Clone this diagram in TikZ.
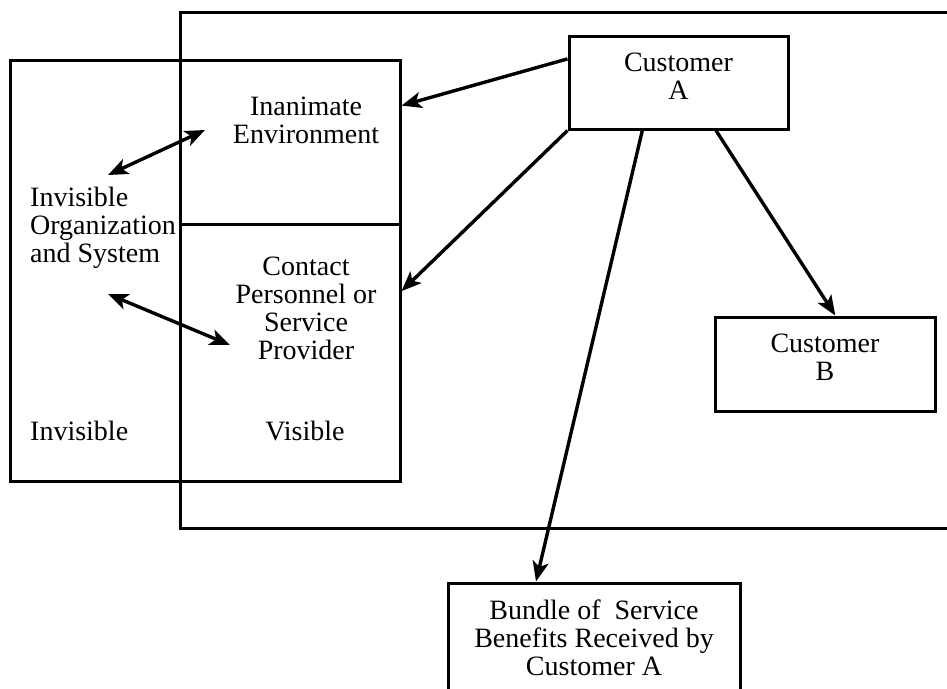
\documentclass[tikz,border=0pt]{standalone}
\usepackage{fontspec}
\setmainfont{Liberation Serif}
\usepackage{tikz}
\usetikzlibrary{
    positioning,
    calc,
    arrows.meta
}
\tikzset{
  arrowtip/.tip = {Stealth[length=20pt, width=16pt, inset=5pt]},
  basic/.style = {
      font=\fontsize{28}{28}\selectfont,
      align=center,
      inner sep=0pt
  },
  box/.style = {
      basic,
      draw,
      rectangle,
      line width=3pt
  },
  caption/.style = {
      basic
  },
  frame/.style = {
      line width=3pt
  },
  link/.style = {
      line width=3.4pt,
      -arrowtip
  },
  twoway/.style = {
      line width=3.4pt,
      arrowtip-arrowtip
  }
}
\begin{document}
\begin{tikzpicture}[x=1pt, y=-1pt]
    \clip (0,0) rectangle (947,688);
    \useasboundingbox (0,0) rectangle (947,688);
    % Frames
    \draw[frame] (960,12) -- (180,12) -- (180,528) -- (960,528);
    \node[box, minimum width=390pt, minimum height=421pt] (orgbox) at (205,270.5) {};
    \draw[frame] (180,224) -- (400,224);
    % Nodes
    \node[caption, anchor=west, align=left] (orgtext) at (30,228) {Invisible\\Organization\\and System};
    \node[caption] (inanimate) at (306,120) {Inanimate\\Environment};
    \node[caption] (contact) at (306,308) {Contact\\Personnel or\\Service\\Provider};
    \node[caption, anchor=west] (invisible) at (30,431) {Invisible};
    \node[caption] (visible) at (305,431) {Visible};
    \node[box, minimum width=219pt, minimum height=93pt] (custA) at (678.5,82.5) {Customer\\A\\[-15pt]};
    \node[box, minimum width=220pt, minimum height=94pt] (custB) at (825,364) {Customer\\B\\[-15pt]};
    \node[box, minimum width=292pt, minimum height=109pt] (bundle) at (594,637.5) {Bundle of~ Service\\Benefits Received by\\Customer A};
    % Free ends
    \coordinate (orgtop) at (108,175);
    \coordinate (envleft) at (205,130);
    \coordinate (orgbottom) at (108,294);
    \coordinate (contleft) at (230,345);
    % Edges
    \path[link]
    (custA.168) edge (orgbox.40)
    (custA.south west) edge (orgbox.-6)
    (custA.233) edge (bundle.136)
    (custA.308) edge (custB.78);
    \path[twoway]
    (orgtop) edge (envleft)
    (orgbottom) edge (contleft);
\end{tikzpicture}
\end{document}
